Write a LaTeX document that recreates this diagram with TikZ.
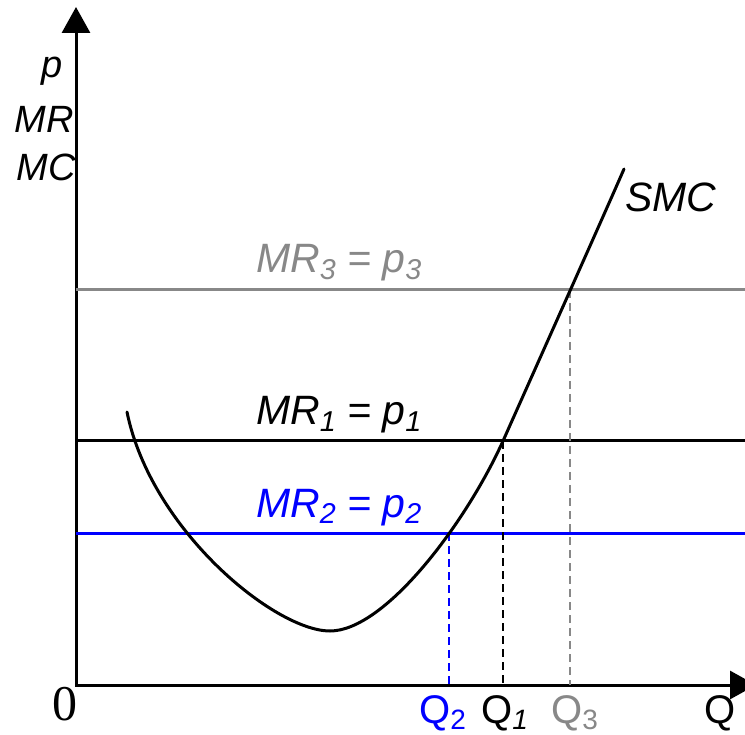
\documentclass[tikz,border=0pt]{standalone}
\usepackage{fontspec}
\setmainfont{Liberation Sans}
\newfontfamily\serifzero{Liberation Serif}
\usetikzlibrary{arrows.meta}
\definecolor{mygray}{RGB}{136,136,136}
\definecolor{myblue}{RGB}{0,0,255}
\newcommand\lsub[1]{\raisebox{-0.17em}{\scalebox{0.7}{#1}}}
\tikzset{
  axis/.style={line width=3pt, {Triangle[width=28pt,length=26pt]}-{Triangle[width=28pt,length=26pt]}, line join=miter},
  hline/.style={line width=3pt},
  dline/.style={line width=2pt, dash pattern=on 8pt off 5pt},
  lab/.style={inner sep=0pt, font=\fontsize{41}{46}\selectfont\itshape},
  qlab/.style={inner sep=0pt, font=\fontsize{40}{46}\selectfont},
}
\begin{document}
\begin{tikzpicture}[x=1pt,y=-1pt]
\useasboundingbox (0,0) rectangle (745,735);
\clip (0,0) rectangle (745,735);
% axes
\coordinate (ytop) at (76,7);
\coordinate (O) at (76,685);
\coordinate (xend) at (756,685);
\draw[axis] (ytop) -- (O) -- (xend);
% horizontal lines
\coordinate (h3a) at (76,290); \coordinate (h3b) at (745,290);
\coordinate (h1a) at (76,441); \coordinate (h1b) at (745,441);
\coordinate (h2a) at (76,533); \coordinate (h2b) at (745,533);
\draw[hline, mygray] (h3a) -- (h3b);
\draw[hline, black] (h1a) -- (h1b);
\draw[hline, myblue] (h2a) -- (h2b);
% intersections
\coordinate (e2) at (449,533);
\coordinate (e1) at (503,441);
\coordinate (e3) at (570,290);
\coordinate (b2) at (449,685);
\coordinate (b1) at (503,685);
\coordinate (b3) at (570,685);
\draw[dline, myblue] (e2) -- (b2);
\draw[dline, black] (e1) -- (b1);
\draw[dline, mygray] (e3) -- (b3);
% SMC curve
\coordinate (s0) at (127,412);
\coordinate (smin) at (330,631);
\coordinate (s1) at (503,441);
\coordinate (s2) at (624,169);
\draw[line width=3pt, line cap=round] (s0) .. controls (151,530) and (275,631) .. (smin)
  .. controls (385,631) and (466,523) .. (s1)
  .. controls (519,405) and (608,206) .. (s2);
% axis labels
\node[lab, font=\fontsize{38}{44}\selectfont\itshape, anchor=base east] (lp) at (63,78) {p};
\node[lab, font=\fontsize{38}{44}\selectfont\itshape, anchor=base east] (lmr) at (74,133) {MR};
\node[lab, font=\fontsize{38}{44}\selectfont\itshape, anchor=base east] (lmc) at (76,181) {MC};
\node[inner sep=0pt, anchor=base east, font=\fontsize{50}{54}\selectfont\serifzero] (zero) at (78,720) {0};
% line labels
\node[lab, anchor=base west, text=mygray] (mr3) at (256,273) {MR\lsub{3} = p\lsub{3}};
\node[lab, anchor=base west] (mr1) at (256,425) {MR\lsub{1} = p\lsub{1}};
\node[lab, anchor=base west, text=myblue] (mr2) at (256,517) {MR\lsub{2} = p\lsub{2}};
\node[lab, anchor=base west] (smc) at (625,212) {SMC};
% Q labels
\node[qlab, anchor=base west, text=myblue] (q2) at (419,723) {Q\lsub{2}};
\node[qlab, anchor=base west] (q1) at (481,723) {Q\lsub{\itshape 1}};
\node[qlab, anchor=base west, text=mygray] (q3) at (551,723) {Q\lsub{3}};
\node[qlab, anchor=base west] (q) at (704,723) {Q};
\end{tikzpicture}
\end{document}
